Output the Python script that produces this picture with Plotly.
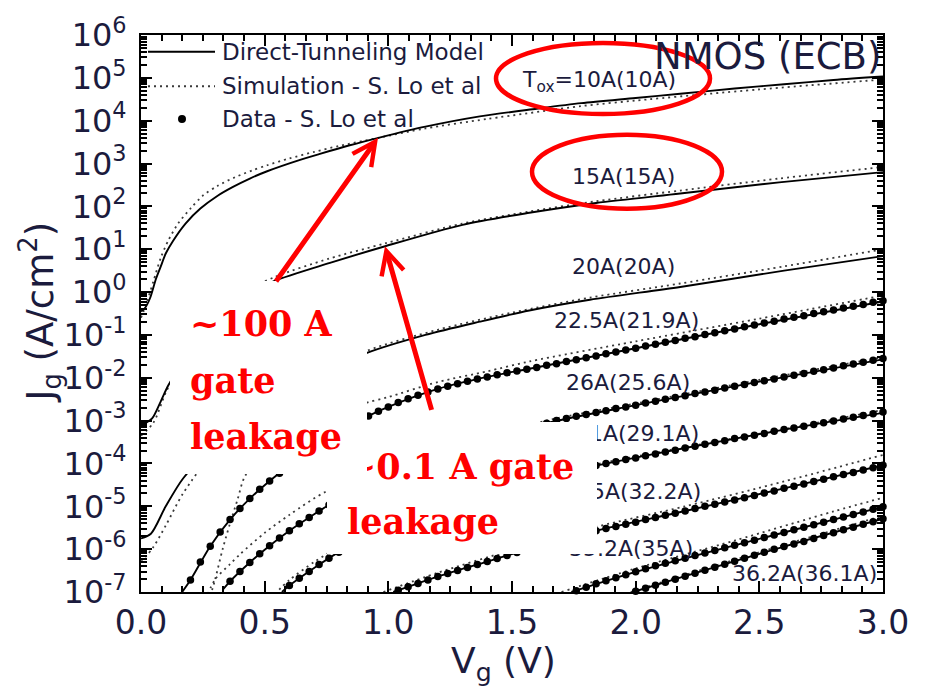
import plotly.graph_objects as go

# ------------------------------------------------------------------
# Data (log10 of Jg in A/cm^2 versus Vg in V)
# ------------------------------------------------------------------
V_GRID = [0.00, 0.04, 0.08, 0.12, 0.16, 0.20, 0.24, 0.28, 0.32, 0.36, 0.40, 0.44,
          0.48, 0.52, 0.56, 0.60, 0.64, 0.68, 0.72, 0.76, 0.80, 0.84, 0.88, 0.92,
          0.96, 1.00, 1.04, 1.08, 1.12, 1.16, 1.20, 1.24, 1.28, 1.32, 1.36, 1.40,
          1.44, 1.48, 1.52, 1.56, 1.60, 1.64, 1.68, 1.72, 1.76, 1.80, 1.84, 1.88,
          1.92, 1.96, 2.00, 2.04, 2.08, 2.12, 2.16, 2.20, 2.24, 2.28, 2.32, 2.36,
          2.40, 2.44, 2.48, 2.52, 2.56, 2.60, 2.64, 2.68, 2.72, 2.76, 2.80, 2.84,
          2.88, 2.92, 2.96, 3.00]

# measured data (dots), aligned with the tail of V_GRID (all end at 3.0 V)
DATA_225 = [-6.72, -6.30, -5.93, -5.60, -5.31, -5.05, -4.82, -4.60, -4.41, -4.23,
            -4.05, -3.88, -3.72, -3.57, -3.42, -3.28, -3.14, -3.01, -2.89, -2.78,
            -2.68, -2.58, -2.49, -2.41, -2.33, -2.26, -2.20, -2.14, -2.08, -2.03,
            -1.98, -1.93, -1.88, -1.84, -1.80, -1.76, -1.71, -1.67, -1.62, -1.58,
            -1.53, -1.49, -1.44, -1.40, -1.35, -1.31, -1.26, -1.22, -1.17, -1.13,
            -1.08, -1.04, -0.99, -0.95, -0.90, -0.86, -0.81, -0.77, -0.72, -0.68,
            -0.63, -0.59, -0.55, -0.50, -0.46, -0.42, -0.37, -0.33, -0.29, -0.24,
            -0.20]
DATA_26 = [-6.75, -6.52, -6.31, -6.11, -5.92, -5.74, -5.57, -5.41, -5.26, -5.11,
           -4.97, -4.84, -4.72, -4.60, -4.49, -4.38, -4.28, -4.18, -4.08, -3.99,
           -3.90, -3.81, -3.73, -3.65, -3.57, -3.50, -3.43, -3.37, -3.30, -3.24,
           -3.18, -3.12, -3.06, -3.00, -2.95, -2.90, -2.86, -2.81, -2.77, -2.72,
           -2.68, -2.64, -2.59, -2.55, -2.50, -2.46, -2.42, -2.37, -2.33, -2.29,
           -2.24, -2.20, -2.16, -2.11, -2.07, -2.03, -1.98, -1.94, -1.90, -1.85,
           -1.81, -1.77, -1.72, -1.68, -1.64, -1.59, -1.55]
DATA_29 = [-6.85, -6.68, -6.52, -6.36, -6.21, -6.07, -5.95, -5.83, -5.71, -5.60,
           -5.50, -5.40, -5.30, -5.21, -5.12, -5.04, -4.96, -4.88, -4.81, -4.74,
           -4.67, -4.60, -4.54, -4.48, -4.42, -4.36, -4.31, -4.25, -4.20, -4.15,
           -4.10, -4.05, -4.00, -3.96, -3.91, -3.87, -3.82, -3.78, -3.73, -3.69,
           -3.64, -3.60, -3.55, -3.51, -3.47, -3.42, -3.38, -3.34, -3.30, -3.25,
           -3.21, -3.17, -3.13, -3.09, -3.05, -3.01, -2.96, -2.92, -2.88, -2.84,
           -2.80]
DATA_325 = [-6.96, -6.88, -6.80, -6.72, -6.64, -6.57, -6.50, -6.43, -6.36, -6.29,
            -6.22, -6.15, -6.08, -6.01, -5.94, -5.87, -5.81, -5.75, -5.69, -5.63,
            -5.57, -5.52, -5.47, -5.42, -5.37, -5.31, -5.26, -5.21, -5.16, -5.11,
            -5.05, -5.00, -4.95, -4.90, -4.85, -4.80, -4.75, -4.69, -4.64, -4.58,
            -4.53, -4.48, -4.42, -4.37, -4.31, -4.26, -4.21, -4.15, -4.10, -4.04]
DATA_352 = [-6.97, -6.89, -6.81, -6.74, -6.67, -6.60, -6.53, -6.46, -6.39, -6.33,
            -6.27, -6.21, -6.15, -6.09, -6.03, -5.97, -5.91, -5.85, -5.79, -5.73,
            -5.67, -5.61, -5.55, -5.49, -5.43, -5.37, -5.31, -5.25, -5.19, -5.13,
            -5.07, -5.01]
DATA_362 = [-6.98, -6.91, -6.84, -6.77, -6.70, -6.63, -6.56, -6.49, -6.42, -6.35,
            -6.28, -6.21, -6.14, -6.07, -6.00, -5.94, -5.88, -5.82, -5.75, -5.68,
            -5.62, -5.55, -5.49, -5.42, -5.36, -5.29]

# direct-tunneling model (solid lines)
M10_V = [0.0, 0.015, 0.036, 0.06, 0.08, 0.10, 0.13, 0.18, 0.24, 0.31, 0.37, 0.44, 0.51,
         0.64, 0.72, 0.84, 0.96, 1.15, 1.37, 1.60, 1.78, 2.00, 2.18, 2.40, 2.60, 2.80, 3.00]
M10_L = [-0.45, -0.38, -0.15, 0.30, 0.60, 0.90, 1.20, 1.60, 1.95, 2.25, 2.45, 2.65, 2.82,
         3.08, 3.22, 3.42, 3.60, 3.86, 4.10, 4.28, 4.41, 4.53, 4.63, 4.75, 4.85, 4.95, 5.03]
M15_V = [0.0, 0.02, 0.045, 0.08, 0.11, 0.20, 0.30, 0.40, 0.47, 0.54, 0.764, 0.987, 1.30,
         1.57, 1.84, 2.18, 2.58, 3.00]
M15_L = [-3.10, -3.05, -2.95, -2.55, -2.18, -1.35, -0.65, -0.18, 0.05, 0.26, 0.68, 1.07,
         1.57, 1.85, 2.08, 2.30, 2.56, 2.80]
M20_V = [0.0, 0.04, 0.10, 0.17, 0.30, 0.50, 0.70, 0.914, 1.15, 1.37, 1.57, 1.815, 2.18, 2.60, 3.00]
M20_L = [-5.75, -5.64, -5.00, -4.35, -3.55, -2.70, -2.00, -1.42, -1.00, -0.69, -0.43, -0.18,
         0.12, 0.50, 0.84]
M225_V = [0.16, 0.20, 0.28, 0.36, 0.44, 0.52, 0.60, 0.72, 0.84, 0.92, 1.00, 1.20, 1.40, 1.56,
          2.00, 2.50, 3.00]
M225_L = [-7.05, -6.72, -5.93, -5.31, -4.82, -4.41, -4.05, -3.57, -3.14, -2.89, -2.68, -2.26,
          -1.98, -1.80, -1.31, -0.75, -0.22]
M26_V = [0.33, 0.36, 0.44, 0.52, 0.60, 0.68, 0.76, 1.00, 1.30, 1.64, 2.00, 2.50, 3.00]
M26_L = [-6.95, -6.75, -6.31, -5.92, -5.57, -5.26, -4.97, -4.28, -3.62, -3.06, -2.64, -2.09, -1.57]
M29_V = [0.57, 0.60, 0.70, 0.80, 1.00, 1.20, 1.40, 1.60, 1.84, 2.20, 2.60, 3.00]
M29_L = [-7.00, -6.85, -6.44, -6.07, -5.50, -5.04, -4.67, -4.36, -4.05, -3.64, -3.21, -2.82]
M325_V = [1.02, 1.20, 1.40, 1.60, 1.84, 2.20, 2.60, 3.00]
M325_L = [-7.00, -6.64, -6.29, -5.94, -5.57, -5.11, -4.58, -4.04]
M352_V = [1.74, 2.00, 2.40, 2.80, 3.00]
M352_L = [-7.00, -6.53, -5.91, -5.31, -5.01]
M362_V = [1.99, 2.20, 2.60, 3.00]
M362_L = [-7.00, -6.63, -5.94, -5.29]

# simulation - S. Lo et al (dotted lines)
S10_V = [0.0, 0.02, 0.05, 0.08, 0.11, 0.15, 0.20, 0.25, 0.31, 0.38, 0.45, 0.51, 0.60, 0.70,
         0.80, 0.96, 1.15, 1.40, 1.78, 2.00, 2.50, 3.00]
S10_L = [-0.60, -0.30, 0.25, 0.80, 1.20, 1.60, 1.95, 2.25, 2.48, 2.68, 2.84, 2.96, 3.12, 3.27,
         3.41, 3.60, 3.82, 4.04, 4.34, 4.47, 4.73, 4.96]
S15_V = [0.0, 0.05, 0.10, 0.20, 0.30, 0.40, 0.54, 0.76, 0.99, 1.30, 1.57, 1.84, 2.18, 2.58, 3.00]
S15_L = [-3.35, -3.05, -2.35, -1.20, -0.50, -0.05, 0.35, 0.78, 1.14, 1.60, 1.88, 2.12, 2.37,
         2.65, 2.92]
S20_V = [0.0, 0.05, 0.10, 0.17, 0.30, 0.50, 0.70, 0.914, 1.20, 1.50, 1.815, 2.18, 2.60, 3.00]
S20_L = [-6.30, -5.95, -5.45, -4.70, -3.70, -2.75, -2.00, -1.37, -0.88, -0.48, -0.13, 0.20,
         0.60, 1.00]
S225_V = [0.28, 0.30, 0.33, 0.36, 0.39, 0.42, 0.50, 0.65, 0.80, 0.914, 1.00, 1.20, 1.40, 1.57,
          2.00, 2.50, 3.00]
S225_L = [-7.10, -6.70, -6.00, -5.40, -4.85, -4.30, -3.75, -3.20, -2.82, -2.58, -2.45, -2.10,
          -1.85, -1.62, -1.15, -0.62, -0.08]
S26_V = [0.27, 0.30, 0.36, 0.40, 0.50, 0.60, 0.75, 1.00, 1.30, 1.64, 2.00, 2.50, 3.00]
S26_L = [-7.05, -6.70, -6.35, -6.12, -5.62, -5.20, -4.65, -4.10, -3.55, -3.00, -2.60, -2.05, -1.52]
S29_V = [0.54, 0.60, 0.70, 0.80, 1.00, 1.40, 1.84, 2.20, 2.60, 3.00]
S29_L = [-7.05, -6.72, -6.30, -5.95, -5.40, -4.60, -4.02, -3.62, -3.20, -2.75]
S325_V = [0.98, 1.20, 1.50, 1.84, 2.20, 2.60, 3.00]
S325_L = [-7.00, -6.55, -6.02, -5.48, -5.00, -4.42, -3.80]
S352_V = [1.70, 2.00, 2.40, 2.80, 3.00]
S352_L = [-7.00, -6.45, -5.80, -5.12, -4.80]
S362_V = [1.98, 2.20, 2.60, 3.00]
S362_L = [-7.00, -6.60, -5.90, -5.22]

CURVE_LABELS = ["T<sub>ox</sub>=10A(10A)", "15A(15A)", "20A(20A)", "22.5A(21.9A)",
                "26A(25.6A)", "29.1A(29.1A)", "32.5A(32.2A)", "35.2A(35A)", "36.2A(36.1A)"]
LEGEND_LABELS = ["Direct-Tunneling Model", "Simulation - S. Lo et al", "Data - S. Lo et al"]
Y_TICK_EXP = [-7, -6, -5, -4, -3, -2, -1, 0, 1, 2, 3, 4, 5, 6]
Y_TICK_TEXT = ["10<sup>-7</sup>", "10<sup>-6</sup>", "10<sup>-5</sup>", "10<sup>-4</sup>",
               "10<sup>-3</sup>", "10<sup>-2</sup>", "10<sup>-1</sup>", "10<sup>0</sup>",
               "10<sup>1</sup>", "10<sup>2</sup>", "10<sup>3</sup>", "10<sup>4</sup>",
               "10<sup>5</sup>", "10<sup>6</sup>"]
ANNOT_100 = ["~100 A", "gate", "leakage"]
ANNOT_01 = ["~0.1 A gate", "leakage"]

# ------------------------------------------------------------------
W, H = 926, 688
ML, MR, MT, MB = 141, 43, 28, 96
TXT = "#1b1b3d"
RED = "#ff0000"
SANS = "DejaVu Sans"
SERIF = "DejaVu Serif"


def px(x):
    return (x - ML) / (W - ML - MR)


def py(y):
    return (H - MB - y) / (H - MT - MB)


def dec(vals):
    return [10 ** v for v in vals]


fig = go.Figure()

models = [(M10_V, M10_L), (M15_V, M15_L), (M20_V, M20_L), (M225_V, M225_L), (M26_V, M26_L),
          (M29_V, M29_L), (M325_V, M325_L), (M352_V, M352_L), (M362_V, M362_L)]
sims = [(S10_V, S10_L), (S15_V, S15_L), (S20_V, S20_L), (S225_V, S225_L), (S26_V, S26_L),
        (S29_V, S29_L), (S325_V, S325_L), (S352_V, S352_L), (S362_V, S362_L)]
datasets = [DATA_225, DATA_26, DATA_29, DATA_325, DATA_352, DATA_362]

for sv, sl in sims:
    fig.add_trace(go.Scatter(x=sv, y=dec(sl), mode="lines", showlegend=False, hoverinfo="skip",
                             line=dict(color="#3a3a3a", width=1.8, dash="2px,4px",
                                       shape="spline", smoothing=0.8)))
for mv, ml in models:
    fig.add_trace(go.Scatter(x=mv, y=dec(ml), mode="lines", showlegend=False,
                             line=dict(color="black", width=1.9, shape="spline", smoothing=0.8)))
for d in datasets:
    xs = V_GRID[len(V_GRID) - len(d):]
    fig.add_trace(go.Scatter(x=xs, y=dec(d), mode="markers", showlegend=False, cliponaxis=False,
                             marker=dict(color="black", size=7.5)))

minor_y = [m * 10 ** e for e in range(-7, 6) for m in range(2, 10)]

fig.update_layout(
    width=W, height=H, autosize=False,
    margin=dict(l=ML, r=MR, t=MT, b=MB),
    paper_bgcolor="white", plot_bgcolor="white",
    font=dict(family=SANS, color=TXT),
    showlegend=False,
    xaxis=dict(range=[0, 3.0], showline=True, linecolor="black", linewidth=2, mirror="ticks",
               ticks="inside", ticklen=11, tickwidth=2, tickcolor="black",
               tickmode="linear", tick0=0, dtick=0.5, tickformat=".1f",
               tickfont=dict(family=SANS, size=33, color=TXT), ticklabelstandoff=0,
               showgrid=False, zeroline=False,
               minor=dict(ticks="inside", ticklen=6, tickwidth=1.5, tickcolor="black",
                          tick0=0, dtick=0.5 / 6, showgrid=False)),
    yaxis=dict(type="log", range=[-7, 6], showline=True, linecolor="black", linewidth=2,
               mirror="ticks", ticks="inside", ticklen=11, tickwidth=2, tickcolor="black",
               tickmode="array", tickvals=[10 ** e for e in Y_TICK_EXP], ticktext=Y_TICK_TEXT,
               tickfont=dict(family=SANS, size=32, color=TXT), ticklabelstandoff=6,
               showgrid=False, zeroline=False,
               minor=dict(tickmode="array", tickvals=minor_y, ticks="inside", ticklen=6,
                          tickwidth=1.5, tickcolor="black", showgrid=False)),
)

# axis titles
fig.add_annotation(xref="paper", yref="paper", x=px(503), y=py(664), text="V<sub>g</sub> (V)",
                   showarrow=False, xanchor="center", yanchor="middle",
                   font=dict(family=SANS, size=36, color=TXT))
fig.add_annotation(xref="paper", yref="paper", x=px(40), y=py(308),
                   text="J<sub>g</sub> (A/cm<sup>2</sup>)", textangle=-90,
                   showarrow=False, xanchor="center", yanchor="middle",
                   font=dict(family=SANS, size=37, color=TXT))

# legend (drawn inside plot area)
fig.add_shape(type="line", xref="paper", yref="paper", x0=px(148), x1=px(215), y0=py(45), y1=py(45),
              line=dict(color="black", width=2))
fig.add_shape(type="line", xref="paper", yref="paper", x0=px(148), x1=px(215), y0=py(80), y1=py(80),
              line=dict(color="#3a3a3a", width=2, dash="2px,4px"))
fig.add_shape(type="circle", xref="paper", yref="paper", x0=px(178), x1=px(186), y0=py(117), y1=py(109),
              fillcolor="black", line=dict(color="black", width=0))
for lab, yy in zip(LEGEND_LABELS, [45, 80, 113]):
    fig.add_annotation(xref="paper", yref="paper", x=px(220), y=py(yy), text=lab, showarrow=False,
                       xanchor="left", yanchor="middle", font=dict(family=SANS, size=23, color=TXT))

fig.add_annotation(xref="paper", yref="paper", x=px(652), y=py(50), text="NMOS (ECB)",
                   showarrow=False, xanchor="left", yanchor="middle",
                   font=dict(family=SANS, size=37, color=TXT))

# curve labels
label_pos = [(678, 75), (677, 171), (677, 262), (701, 317), (692, 380), (701, 432), (703, 490),
             (695, 548), (879, 573)]
for lab, (lx, ly) in zip(CURVE_LABELS, label_pos):
    fig.add_annotation(xref="paper", yref="paper", x=px(lx), y=py(ly), text=lab, showarrow=False,
                       xanchor="right", yanchor="middle", font=dict(family=SANS, size=22, color=TXT))

# red ellipses
fig.add_shape(type="circle", xref="paper", yref="paper", x0=px(496), x1=px(710), y0=py(108), y1=py(36),
              line=dict(color=RED, width=4.5), layer="above")
fig.add_shape(type="circle", xref="paper", yref="paper", x0=px(532), x1=px(722), y0=py(204), y1=py(129),
              line=dict(color=RED, width=4.5), layer="above")


def white_box(x0, y0, x1, y1):
    fig.add_annotation(xref="paper", yref="paper", x=px(x0), y=py(y0), xanchor="left", yanchor="top",
                       text="\u00a0", width=x1 - x0, height=y1 - y0, bgcolor="white",
                       borderpad=0, borderwidth=0, showarrow=False)


# second box ("~0.1 A gate leakage") lies under the first one
white_box(327, 420, 597, 552)
for t, yy in zip(ANNOT_01, [465, 521]):
    fig.add_annotation(xref="paper", yref="paper", x=px(345), y=py(yy), text="<b>%s</b>" % t,
                       showarrow=False, xanchor="left", yanchor="middle",
                       font=dict(family=SERIF, size=35, color=RED))

white_box(170, 277, 367, 470)
for t, yy in zip(ANNOT_100, [320, 378, 435]):
    fig.add_annotation(xref="paper", yref="paper", x=px(188), y=py(yy), text="<b>%s</b>" % t,
                       showarrow=False, xanchor="left", yanchor="middle",
                       font=dict(family=SERIF, size=35, color=RED))

# red arrows
fig.add_annotation(xref="paper", yref="paper", x=px(378), y=py(132), ax=275 - 378, ay=277 - 132,
                   text="", showarrow=True, arrowhead=5, arrowsize=0.9, arrowwidth=5,
                   arrowcolor=RED, standoff=0)
fig.add_annotation(xref="paper", yref="paper", x=px(385), y=py(242), ax=432 - 385, ay=407 - 242,
                   text="", showarrow=True, arrowhead=5, arrowsize=0.9, arrowwidth=5,
                   arrowcolor=RED, standoff=0)

fig.write_html("out.html", config={"displayModeBar": False},
               post_script="document.body.style.margin='0';document.body.style.overflow='hidden';")
